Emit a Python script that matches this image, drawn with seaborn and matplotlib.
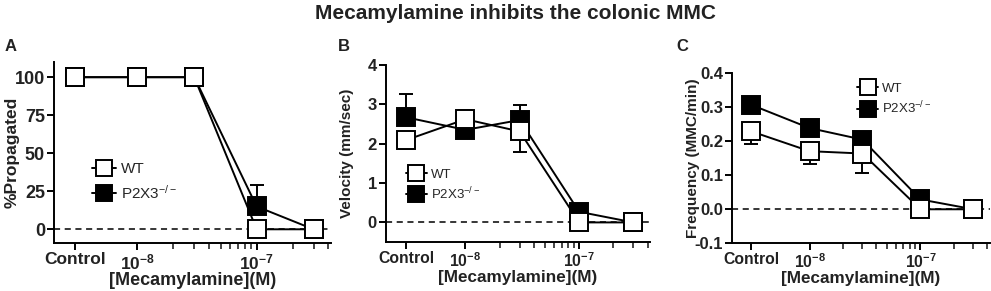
import numpy as np
import pandas as pd
import matplotlib
matplotlib.use('Agg')
import matplotlib.pyplot as plt
import seaborn as sns
from matplotlib.lines import Line2D
from matplotlib.ticker import FixedLocator, NullFormatter

# x positions (M); "Control" sits at 3e-9 on the log axis
conc = [3e-9, 1e-8, 3e-8, 1e-7, 3e-7]
xtick_pos = [3e-9, 1e-8, 1e-7]
xtick_labels = ['Control', r'10$^{\mathbf{-8}}$', r'10$^{\mathbf{-7}}$']
minor_pos = [2e-8, 3e-8, 4e-8, 5e-8, 6e-8, 7e-8, 8e-8, 9e-8, 2e-7, 3e-7, 4e-7]

# A: % propagated
wt_A = [100, 100, 100, 0, 0]
wt_A_lo = [0, 0, 0, 0, 0]
wt_A_hi = [0, 0, 0, 0, 0]
p2_A = [100, 100, 100, 15, 0]
p2_A_lo = [0, 0, 0, 0, 0]
p2_A_hi = [0, 0, 0, 14, 0]

# B: velocity
wt_B = [2.09, 2.62, 2.31, 0, 0]
wt_B_lo = [0.22, 0, 0.51, 0, 0]
wt_B_hi = [0, 0.24, 0, 0, 0]
p2_B = [2.67, 2.35, 2.60, 0.27, 0]
p2_B_lo = [0, 0, 0, 0, 0]
p2_B_hi = [0.58, 0, 0.37, 0.17, 0]

# C: frequency
wt_C = [0.229, 0.171, 0.164, 0, 0]
wt_C_lo = [0.036, 0.039, 0.057, 0, 0]
wt_C_hi = [0, 0, 0, 0, 0]
p2_C = [0.307, 0.239, 0.205, 0.029, 0]
p2_C_lo = [0, 0, 0, 0, 0]
p2_C_hi = [0.023, 0, 0, 0, 0]

sns.set_style('ticks')
plt.rcParams['font.family'] = ['Liberation Sans', 'DejaVu Sans']
plt.rcParams['mathtext.fontset'] = 'custom'
plt.rcParams['mathtext.rm'] = 'Liberation Sans'
plt.rcParams['mathtext.bf'] = 'Liberation Sans:bold'
plt.rcParams['mathtext.default'] = 'regular'

fig = plt.figure(figsize=(9.91, 2.91), dpi=100)

panels = [
    dict(letter='A', rect=[0.0545, 0.165, 0.2795, 0.622], ylabel='%Propagated',
         wt=(wt_A, wt_A_lo, wt_A_hi), p2=(p2_A, p2_A_lo, p2_A_hi),
         ylim=(-9, 110), yticks=[0, 25, 50, 75, 100], fmt='{:.0f}',
         ytfs=13, xtfs=12.5, xlfs=13, ylfs=12.5, ylx=-0.152,
         leg=(0.115, 0.48), legfs=11, legsp=0.5, letter_x=0.005),
    dict(letter='B', rect=[0.3895, 0.168, 0.2664, 0.609], ylabel='Velocity (mm/sec)',
         wt=(wt_B, wt_B_lo, wt_B_hi), p2=(p2_B, p2_B_lo, p2_B_hi),
         ylim=(-0.5, 4), yticks=[0, 1, 2, 3, 4], fmt='{:.0f}',
         ytfs=12, xtfs=11.3, xlfs=12.3, ylfs=11, ylx=-0.148,
         leg=(0.055, 0.445), legfs=9.5, legsp=0.35, letter_x=0.341),
    dict(letter='C', rect=[0.7386, 0.164, 0.2600, 0.584], ylabel='Frequency (MMC/min)',
         wt=(wt_C, wt_C_lo, wt_C_hi), p2=(p2_C, p2_C_lo, p2_C_hi),
         ylim=(-0.1, 0.4), yticks=[-0.1, 0.0, 0.1, 0.2, 0.3, 0.4], fmt='{:.1f}',
         ytfs=12, xtfs=11.3, xlfs=12.3, ylfs=11, ylx=-0.151,
         leg=(0.465, 0.975), legfs=9.5, legsp=0.35, letter_x=0.683),
]

for p in panels:
    ax = fig.add_axes(p['rect'])
    ax.set_xscale('log')
    ax.axhline(0, ls='--', color='black', lw=1.1, dashes=(4, 3), zorder=1)
    for key, face in [('p2', 'black'), ('wt', 'white')]:
        y, lo, hi = p[key]
        df = pd.DataFrame({'conc': conc, 'val': y})
        ax.errorbar(conc, y, yerr=[lo, hi], fmt='none', ecolor='black',
                    elinewidth=1.4, capsize=5, capthick=1.4, zorder=2)
        sns.lineplot(data=df, x='conc', y='val', ax=ax, color='black', lw=1.4,
                     marker='s', markersize=12.5, markerfacecolor=face,
                     markeredgecolor='black', markeredgewidth=1.4, zorder=3)
    ax.set_xlim(2e-9, 4.2e-7)
    ax.set_ylim(*p['ylim'])
    ax.set_yticks(p['yticks'])
    ax.set_yticklabels([p['fmt'].format(v) for v in p['yticks']],
                       fontsize=p['ytfs'], fontweight='bold')
    ax.xaxis.set_major_locator(FixedLocator(xtick_pos))
    ax.set_xticklabels(xtick_labels, fontsize=p['xtfs'], fontweight='bold')
    ax.xaxis.set_minor_locator(FixedLocator(minor_pos))
    ax.xaxis.set_minor_formatter(NullFormatter())
    ax.tick_params(axis='both', which='major', direction='out', length=5,
                   width=1.4, color='black', pad=1.5, labelcolor='#222222')
    ax.tick_params(axis='x', which='minor', direction='out', length=4, width=1.2)
    ax.set_xlabel('[Mecamylamine](M)', fontsize=p['xlfs'], fontweight='bold',
                  color='#222222', labelpad=0)
    ax.set_ylabel(p['ylabel'], fontsize=p['ylfs'], fontweight='bold', color='#222222',
                  va='center')
    ax.yaxis.set_label_coords(p['ylx'], 0.5)
    for s in ['top', 'right']:
        ax.spines[s].set_visible(False)
    for s in ['left', 'bottom']:
        ax.spines[s].set_linewidth(1.4)
        ax.spines[s].set_color('black')
    handles = [
        Line2D([], [], color='black', lw=1.4, marker='s', markersize=11,
               markerfacecolor='white', markeredgecolor='black', markeredgewidth=1.4),
        Line2D([], [], color='black', lw=1.4, marker='s', markersize=11,
               markerfacecolor='black', markeredgecolor='black', markeredgewidth=1.4),
    ]
    ax.legend(handles, ['WT', r'P2X3$^{-/-}$'], loc='upper left',
              bbox_to_anchor=p['leg'], frameon=False, fontsize=p['legfs'],
              handlelength=1.6, handletextpad=0.3, labelspacing=p['legsp'],
              borderaxespad=0)
    fig.text(p['letter_x'], 0.84, p['letter'], fontsize=12, fontweight='bold',
             ha='left', va='center', color='#222222')

fig.text(0.52, 0.955, 'Mecamylamine inhibits the colonic MMC', fontsize=15,
         fontweight='bold', ha='center', va='center', color='#222222')

fig.savefig('out.png', dpi=100)
